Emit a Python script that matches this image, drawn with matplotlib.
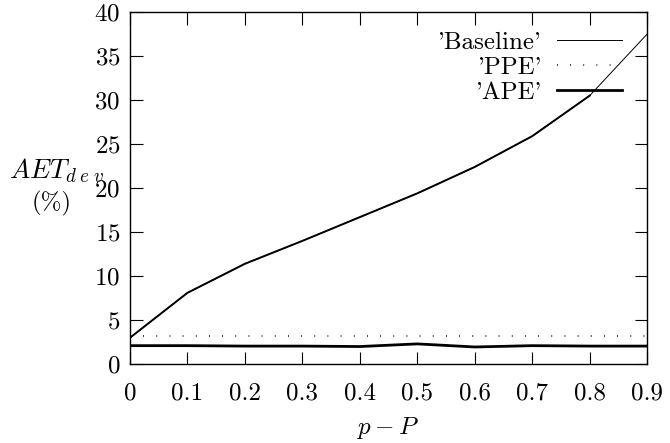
import matplotlib
matplotlib.use('Agg')
import matplotlib.pyplot as plt
import numpy as np

plt.rcParams['font.family'] = 'serif'
plt.rcParams['font.serif'] = ['cmr10']
plt.rcParams['mathtext.fontset'] = 'cm'
plt.rcParams['axes.formatter.use_mathtext'] = True

# data
p = [0.0, 0.1, 0.2, 0.3, 0.4, 0.5, 0.6, 0.7, 0.8, 0.9]
baseline = [3.0, 8.1, 11.4, 14.0, 16.7, 19.4, 22.4, 25.9, 30.5, 37.5]
ppe = [3.2, 3.2, 3.2, 3.2, 3.2, 3.2, 3.2, 3.2, 3.2, 3.2]
ape = [2.1, 2.1, 2.05, 2.05, 2.0, 2.3, 1.95, 2.1, 2.05, 2.05]

xticks = [0, 0.1, 0.2, 0.3, 0.4, 0.5, 0.6, 0.7, 0.8, 0.9]
xticklabels = ['0', '0.1', '0.2', '0.3', '0.4', '0.5', '0.6', '0.7', '0.8', '0.9']
yticks = [0, 5, 10, 15, 20, 25, 30, 35, 40]


def main():
    fig = plt.figure(figsize=(6.7, 4.43), dpi=100)
    ax = fig.add_axes([0.194, 0.178, 0.772, 0.795])

    # Baseline: thin line, the lower part appears a bit heavier in the original
    ax.plot(p, baseline, '-', color='black', lw=0.7, label="'Baseline'")
    ax.plot(p[:9], baseline[:9], '-', color='black', lw=1.4)
    ax.plot(p, ppe, color='black', lw=1.2, dashes=[0.5, 7.4], label="'PPE'")
    ax.plot(p, ape, '-', color='black', lw=2.0, label="'APE'")

    ax.set_xlim(0, 0.9)
    ax.set_ylim(0, 40)
    ax.set_xticks(xticks)
    ax.set_xticklabels(xticklabels)
    ax.set_yticks(yticks)
    ax.tick_params(direction='in', length=9, width=0.8, top=True, right=True,
                   labelsize=18)
    ax.tick_params(axis='x', pad=13)
    ax.tick_params(axis='y', pad=7)
    for s in ax.spines.values():
        s.set_linewidth(1.0)

    ax.set_xlabel('$p-P$', fontsize=18, labelpad=8)
    fig.text(9 / 670, 1 - 178 / 443, r'$AET_{d\;e\;v}$', fontsize=19.5,
             ha='left', va='baseline')
    fig.text(52 / 670, 1 - 203 / 443, '(%)', fontsize=18, ha='center', va='center')

    ax.legend(loc='upper right', frameon=False, markerfirst=False, fontsize=18,
              handlelength=2.6, handletextpad=0.6, labelspacing=0.1,
              borderaxespad=0.3, bbox_to_anchor=(0.985, 0.995))

    fig.savefig('out.png', dpi=100)


if __name__ == '__main__':
    main()
